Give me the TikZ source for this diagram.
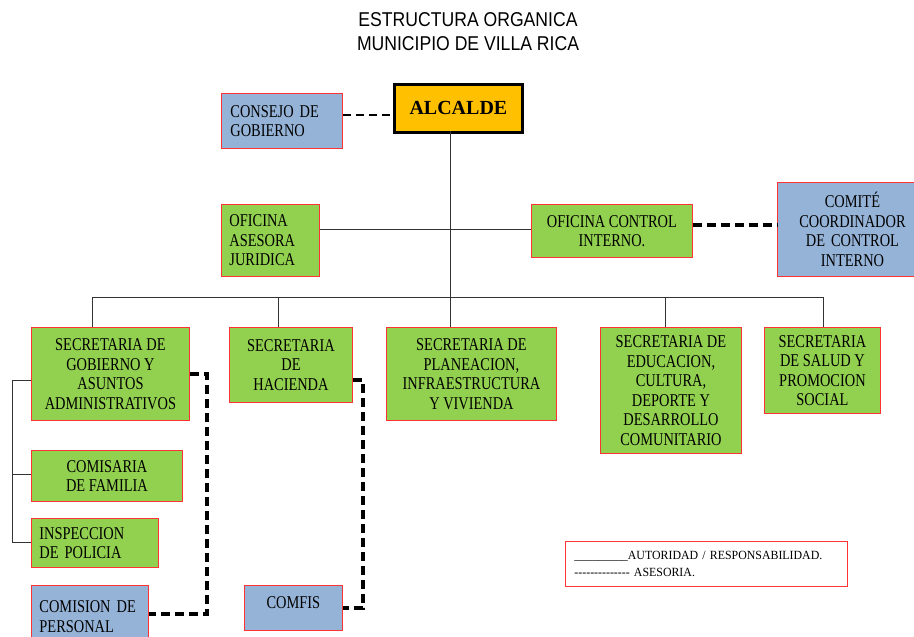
\documentclass[tikz,border=0pt]{standalone}
\usepackage{fontspec}
\newfontfamily\boxfont[FakeStretch=0.8]{Liberation Serif}
\newfontfamily\plainserif{Liberation Serif}
\newfontfamily\legfont[FakeStretch=0.95]{Liberation Serif}
\newfontfamily\titlefont[FakeStretch=0.88]{Liberation Sans}
\definecolor{boxgreen}{HTML}{92D050}
\definecolor{boxblue}{HTML}{95B3D7}
\definecolor{boxorange}{HTML}{FFC000}
\definecolor{boxred}{HTML}{FF3333}
\tikzset{
  box/.style={draw=boxred, line width=0.9pt, anchor=north west, inner sep=0pt,
    font=\boxfont\fontsize{18}{19.5}\selectfont, align=center},
  gbox/.style={box, fill=boxgreen},
  bbox/.style={box, fill=boxblue},
  conn/.style={draw=black!80, line width=0.8pt},
  adv/.style={draw=black, line width=3.2pt, dash pattern=on 9pt off 5pt},
  advthin/.style={draw=black, line width=2pt, dash pattern=on 8pt off 5pt},
}
\begin{document}
\begin{tikzpicture}[x=1pt, y=-1pt]
\useasboundingbox (0,0) rectangle (914,637);
\clip (0,0) rectangle (914,637);
\fill[white] (0,0) rectangle (914,637);

% title
\node[font=\titlefont\fontsize{20}{24}\selectfont, align=center] (title) at (468,32)
  {ESTRUCTURA ORGANICA\\MUNICIPIO DE VILLA RICA};

% top
\node[draw=black, line width=2.8pt, fill=boxorange, anchor=north west, inner sep=0pt,
  minimum width=128, minimum height=48, font=\plainserif\bfseries\fontsize{20}{22}\selectfont]
  (alc) at (393,83) {ALCALDE};
\node[bbox, minimum width=121, minimum height=55, text width=103, align=left] (cons) at (221,93)
  {CONSEJO DE\\GOBIERNO};
\node[gbox, minimum width=98, minimum height=72, text width=82, align=left] (ofj) at (221,204)
  {OFICINA\\ASESORA\\JURIDICA};
\node[gbox, minimum width=161, minimum height=53] (ofc) at (531,204)
  {OFICINA CONTROL\\INTERNO.};
\node[bbox, minimum width=150, minimum height=94, text width=136] (comite) at (777,182)
  {COMIT\'E\\COORDINADOR\\DE CONTROL\\INTERNO};

% secretarias
\node[gbox, minimum width=158, minimum height=93] (sgob) at (31,327)
  {SECRETARIA DE\\GOBIERNO Y\\ASUNTOS\\ADMINISTRATIVOS};
\node[gbox, minimum width=123, minimum height=75] (shac) at (229,327)
  {SECRETARIA\\DE\\HACIENDA};
\node[gbox, minimum width=170, minimum height=93] (spla) at (386,327)
  {SECRETARIA DE\\PLANEACION,\\INFRAESTRUCTURA\\Y VIVIENDA};
\node[gbox, minimum width=141, minimum height=126] (sedu) at (600,327)
  {SECRETARIA DE\\EDUCACION,\\CULTURA,\\DEPORTE Y\\DESARROLLO\\COMUNITARIO};
\node[gbox, minimum width=116, minimum height=86] (ssal) at (764,327)
  {SECRETARIA\\DE SALUD Y\\PROMOCION\\SOCIAL};

% lower left
\node[gbox, minimum width=151, minimum height=51] (comis) at (31,450)
  {COMISARIA\\DE FAMILIA};
\node[gbox, minimum width=127, minimum height=49, text width=111, align=left] (insp) at (31,518)
  {INSPECCION\\DE POLICIA};
\node[bbox, minimum width=117, minimum height=62, text width=101, align=left] (cper) at (31,585)
  {COMISION DE\\PERSONAL\\[10pt]};
\node[bbox, minimum width=98, minimum height=45] (comfis) at (244,585)
  {\raisebox{10pt}{COMFIS}};

% legend
\node[draw=boxred, line width=0.9pt, anchor=north west, inner sep=0pt, minimum width=282,
  minimum height=45, text width=264, align=left,
  font=\legfont\fontsize{12.5}{17}\selectfont] (leg) at (565,541)
  {\_\_\_\_\_\_\_\_\_AUTORIDAD / RESPONSABILIDAD.\\
   -{}-{}-{}-{}-{}-{}-{}-{}-{}-{}-{}-{}-{}- ASESORIA.};

% coordinates
\coordinate (busL) at (92,297);
\coordinate (busR) at (823,297);
\coordinate (top0) at (450,131);
\coordinate (mid) at (450,229);
\coordinate (tl) at (12,380);
\coordinate (tb) at (12,542);

% authority lines
\draw[conn] (top0) -- (top0 |- spla.north);
\draw[conn] (ofj.east |- mid) -- (ofc.west |- mid);
\draw[conn] (busL) -- (busR);
\draw[conn] (busL) -- (busL |- sgob.north);
\draw[conn] (278,297) -- (shac.north -| 278,0);
\draw[conn] (665,297) -- (sedu.north -| 665,0);
\draw[conn] (busR) -- (ssal.north -| busR);
\draw[conn] (sgob.west |- tl) -- (tl) -- (tb) -- (insp.west |- tb);
\draw[conn] (12,474) -- (comis.west |- 0,474);

% advisory lines
\draw[advthin] (cons.east |- 0,115) -- (alc.west |- 0,115);
\draw[adv] (ofc.east |- 0,225) -- (comite.west |- 0,225);
\draw[adv] (sgob.east |- 0,374) -- (207,374) -- (207,614) -- (cper.east |- 0,614);
\draw[adv] (shac.east |- 0,380) -- (363,380) -- (363,608) -- (comfis.east |- 0,608);
\end{tikzpicture}
\end{document}
